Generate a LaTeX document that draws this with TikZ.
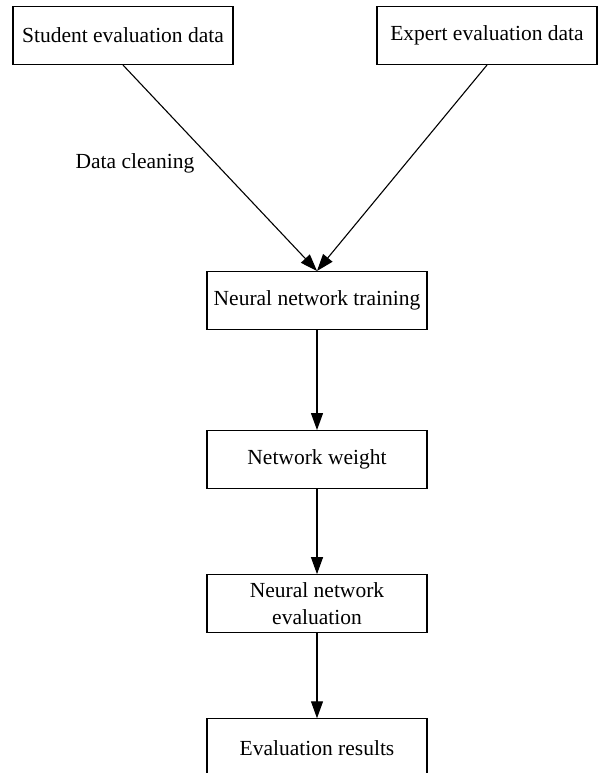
\documentclass[tikz,border=0pt]{standalone}
\usepackage{fontspec}
\setmainfont{Liberation Serif}
\usetikzlibrary{positioning,arrows.meta}
\tikzstyle{fbox}=[rectangle, draw=black, line width=1.1pt, fill=white,
                  minimum width=220pt, minimum height=58pt, inner sep=2pt,
                  text centered, font=\fontsize{21.5}{27}\selectfont]
\tikzstyle{fline}=[-{Triangle[length=17pt,width=12pt]}, line width=1.1pt]

\begin{document}
\begin{tikzpicture}[x=1pt,y=-1pt,node distance=0pt]
\useasboundingbox (0,0) rectangle (601,773);

\node (STUD) [fbox] at (123,35.5) {Student evaluation data};
\node (EXPT) [fbox] at (487,35.5) {Expert evaluation data};
\node (TRAIN) [fbox] at (317,300.5) {Neural network training};
\node (WGHT) [fbox,below=100pt of TRAIN] {Network weight};
\node (NEVAL) [fbox,below=85pt of WGHT,align=center] {Neural network\\evaluation};
\node (RES) [fbox,below=85pt of NEVAL] {Evaluation results};
\node (CLEAN) [font=\fontsize{21.5}{26}\selectfont] at (135,163) {Data cleaning};

 \draw[fline] (STUD.south) -- (TRAIN.north);
 \draw[fline] (EXPT.south) -- (TRAIN.north);
 \draw[fline] (TRAIN.south) -- (WGHT.north);
 \draw[fline] (WGHT.south) -- (NEVAL.north);
 \draw[fline] (NEVAL.south) -- (RES.north);

\end{tikzpicture}
\end{document}
